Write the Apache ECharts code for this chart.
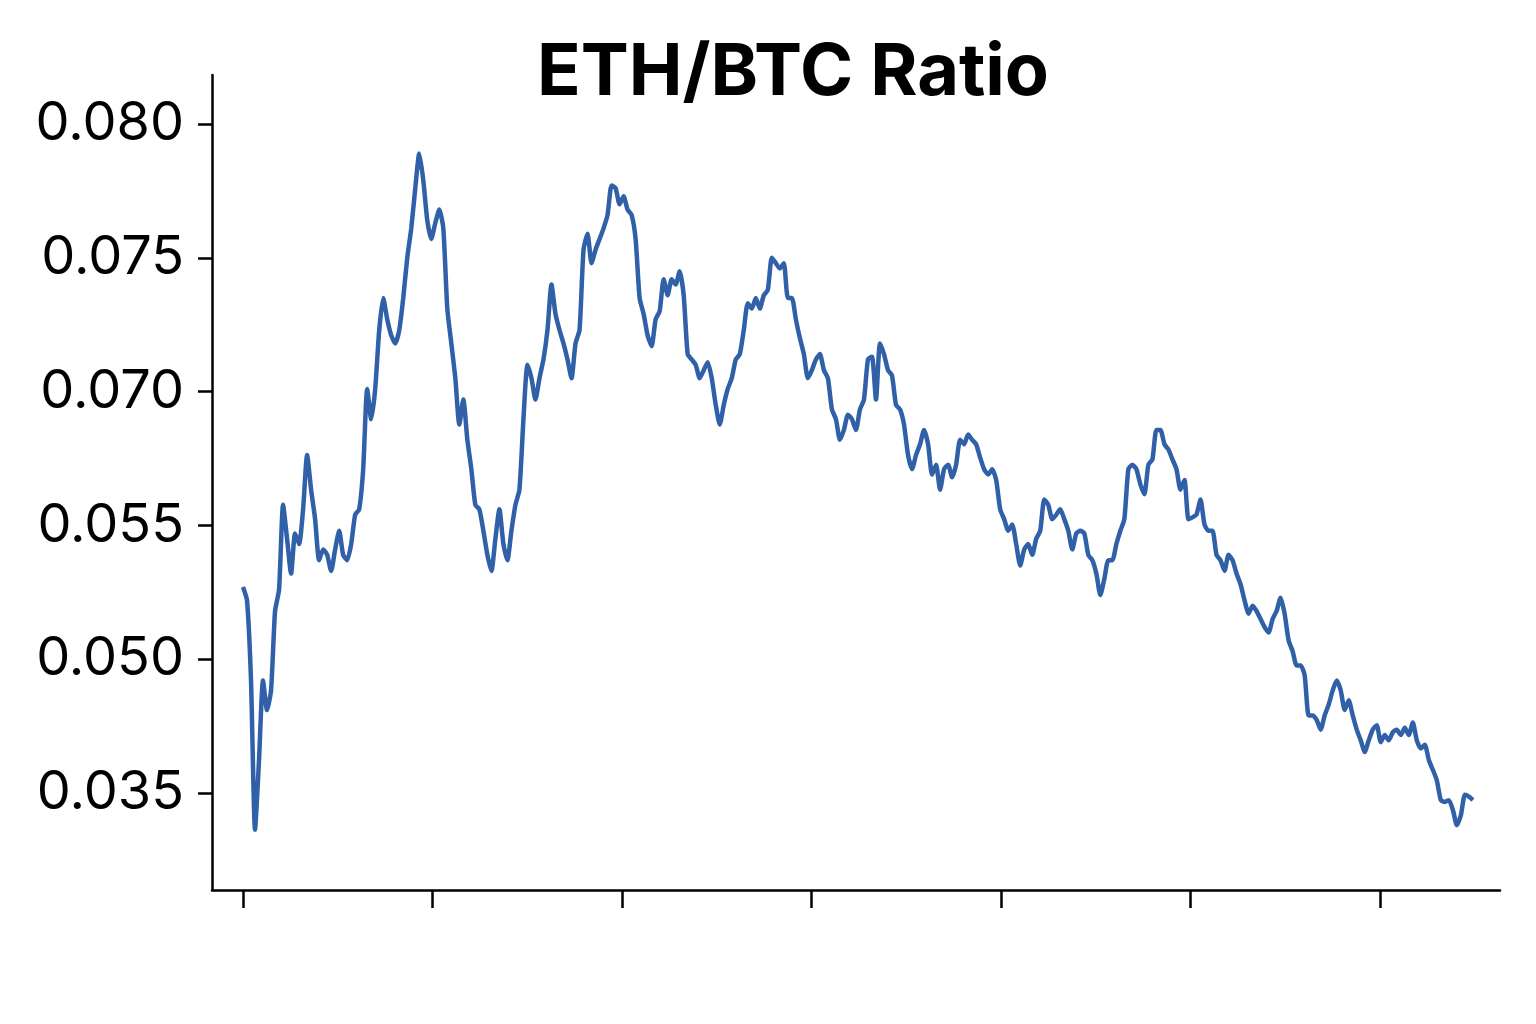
<!DOCTYPE html>
<html><head><meta charset="utf-8">
<script src="https://cdn.jsdelivr.net/npm/echarts@6/dist/echarts.min.js"></script>
<style>html,body{margin:0;background:#fff}#c{width:1536px;height:1024px}</style>
</head><body><div id="c"></div>
<script>
const yTickLabels = ['0.035','0.050','0.055','0.070','0.075','0.080'];
const yTickValues = [0.035,0.050,0.055,0.070,0.075,0.080];
const xTicks = [0,1,2,3,4,5,6];
const xEnd = 6.49;
const ratio = [0.0527,0.0522,0.0476,0.0309,0.0387,0.0476,0.0443,0.0465,0.0518,0.0526,0.0573,0.0545,0.0532,0.0547,0.0543,0.0568,0.0629,0.0590,0.0557,0.0537,0.0541,0.0539,0.0533,0.0541,0.0548,0.0539,0.0537,0.0543,0.0562,0.0568,0.0613,0.0701,0.0669,0.0701,0.0723,0.0735,0.0727,0.0721,0.0718,0.0723,0.0735,0.0750,0.0761,0.0776,0.0789,0.0779,0.0764,0.0757,0.0763,0.0768,0.0761,0.0731,0.0718,0.0705,0.0663,0.0691,0.0646,0.0613,0.0573,0.0568,0.0548,0.0539,0.0533,0.0545,0.0568,0.0543,0.0537,0.0548,0.0573,0.0590,0.0669,0.0710,0.0705,0.0691,0.0705,0.0712,0.0723,0.0740,0.0729,0.0723,0.0718,0.0712,0.0705,0.0718,0.0723,0.0753,0.0759,0.0748,0.0753,0.0757,0.0761,0.0766,0.0777,0.0776,0.0770,0.0773,0.0768,0.0766,0.0757,0.0735,0.0729,0.0721,0.0717,0.0727,0.0730,0.0742,0.0736,0.0742,0.0740,0.0745,0.0736,0.0714,0.0712,0.0710,0.0705,0.0708,0.0711,0.0705,0.0685,0.0663,0.0685,0.0701,0.0705,0.0712,0.0714,0.0723,0.0733,0.0731,0.0735,0.0731,0.0736,0.0738,0.0750,0.0748,0.0746,0.0748,0.0735,0.0735,0.0727,0.0720,0.0714,0.0705,0.0708,0.0712,0.0714,0.0708,0.0705,0.0680,0.0669,0.0646,0.0657,0.0674,0.0669,0.0657,0.0680,0.0691,0.0712,0.0713,0.0691,0.0718,0.0714,0.0708,0.0706,0.0685,0.0680,0.0663,0.0629,0.0613,0.0629,0.0641,0.0657,0.0641,0.0607,0.0618,0.0590,0.0613,0.0618,0.0604,0.0618,0.0646,0.0641,0.0652,0.0646,0.0641,0.0626,0.0613,0.0607,0.0613,0.0601,0.0568,0.0557,0.0548,0.0551,0.0543,0.0535,0.0541,0.0543,0.0539,0.0545,0.0548,0.0579,0.0573,0.0557,0.0562,0.0568,0.0557,0.0548,0.0541,0.0547,0.0548,0.0547,0.0539,0.0537,0.0532,0.0524,0.0530,0.0537,0.0537,0.0543,0.0548,0.0557,0.0613,0.0618,0.0613,0.0596,0.0585,0.0618,0.0624,0.0657,0.0657,0.0641,0.0635,0.0624,0.0613,0.0590,0.0601,0.0557,0.0559,0.0562,0.0579,0.0551,0.0548,0.0548,0.0539,0.0537,0.0533,0.0539,0.0537,0.0532,0.0528,0.0522,0.0517,0.0520,0.0518,0.0515,0.0512,0.0510,0.0515,0.0518,0.0523,0.0517,0.0507,0.0503,0.0493,0.0493,0.0482,0.0437,0.0437,0.0432,0.0421,0.0437,0.0449,0.0465,0.0476,0.0465,0.0443,0.0454,0.0437,0.0421,0.0409,0.0396,0.0409,0.0421,0.0426,0.0407,0.0415,0.0409,0.0418,0.0421,0.0415,0.0423,0.0415,0.0429,0.0409,0.0400,0.0404,0.0387,0.0376,0.0364,0.0342,0.0340,0.0342,0.0331,0.0314,0.0325,0.0348,0.0346,0.0342];

function level(v){
  const t = yTickValues;
  let i = 0;
  if (v <= t[0]) i = 0; else if (v >= t[t.length-1]) i = t.length-2;
  else { while (i < t.length-2 && v > t[i+1]) i++; }
  return i + (v - t[i]) / (t[i+1] - t[i]);
}
const N = ratio.length;
const data = ratio.map((v,i)=>[i*xEnd/(N-1), level(v), v]);

const chart = echarts.init(document.getElementById('c'));
chart.setOption({
  animation:false,
  title:{text:'ETH/BTC Ratio',left:788,top:32,textAlign:'center',
    textStyle:{fontFamily:'Inter, Noto Sans, sans-serif',fontWeight:'bold',fontSize:72,color:'#000'}},
  grid:{left:212,right:36,top:75,bottom:134},
  xAxis:{type:'value',min:-0.1636,max:6.633,
    axisLine:{onZero:false,lineStyle:{color:'#000',width:2.5}},
    axisTick:{show:true,customValues:xTicks,length:18,inside:false,lineStyle:{color:'#000',width:2.5}},
    axisLabel:{show:false},splitLine:{show:false}},
  yAxis:{type:'value',min:-0.725,max:5.366,
    axisLine:{show:true,onZero:false,lineStyle:{color:'#000',width:2.5}},
    axisTick:{show:true,customValues:[0,1,2,3,4,5],length:14,lineStyle:{color:'#000',width:2.5}},
    axisLabel:{customValues:[0,1,2,3,4,5],formatter:v=>yTickLabels[Math.round(v)],
      fontSize:54,color:'#000',margin:28,fontFamily:'Inter, Noto Sans, sans-serif'},
    splitLine:{show:false}},
  series:[{type:'line',data:data,showSymbol:false,symbol:'none',
    lineStyle:{color:'#3060a8',width:4.5},smooth:0.2}]
});
</script></body></html>
